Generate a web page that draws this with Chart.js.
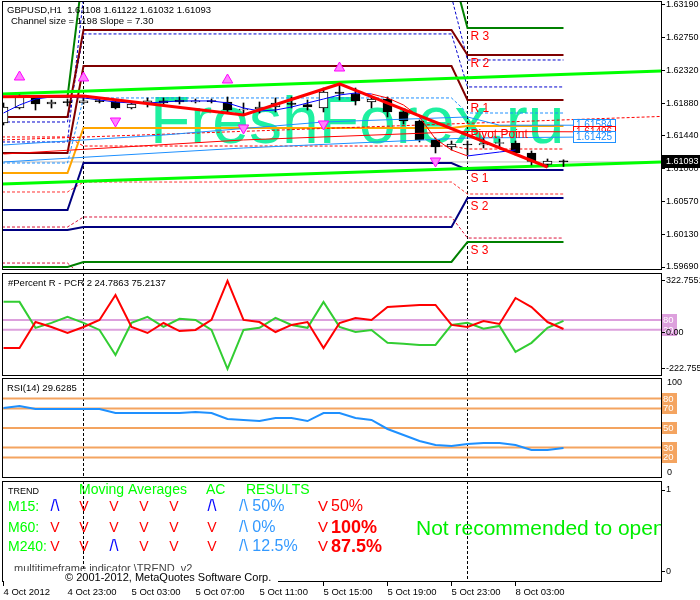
<!DOCTYPE html>
<html>
<head>
    <title>GBPUSD H1</title>
    <script src="https://cdn.jsdelivr.net/npm/chart.js"></script>
    <style>
        body {
            margin: 0;
            background-color: white;
        }
        #wrap {
            position: relative;
            width: 700px;
            height: 600px;
            overflow: hidden;
        }
        canvas {
            position: absolute;
            left: 0;
        }
    </style>
</head>
<body>
<div id="wrap">
    <canvas id="priceChart" width="700" height="272" style="top:0px"></canvas>
    <canvas id="pcrChart" width="700" height="105" style="top:272px"></canvas>
    <canvas id="rsiChart" width="700" height="108" style="top:372px"></canvas>
    <canvas id="trendChart" width="700" height="120" style="top:480px"></canvas>
</div>

<script>
// ---- data (H1 bars, 4 Oct 19:00 .. 8 Oct 06:00) ----
const opens  = [1.61614, 1.61814, 1.61961, 1.61867, 1.61894, 1.61885, 1.61908, 1.61900, 1.61814, 1.61867, 1.61908, 1.61921,
                1.61894, 1.61908, 1.61894, 1.61787, 1.61801, 1.61827, 1.61881, 1.61860, 1.61814, 1.62028, 1.62008, 1.61894,
                1.61934, 1.61761, 1.61640, 1.61387, 1.61293, 1.61333, 1.61320, 1.61340, 1.61346, 1.61213, 1.61060, 1.61108];
const highs  = [1.61881, 1.61988, 1.61974, 1.61921, 1.61934, 1.61961, 1.61948, 1.61921, 1.61894, 1.61948, 1.61948, 1.61961,
                1.61934, 1.61934, 1.61961, 1.61881, 1.61894, 1.61948, 1.61961, 1.61921, 1.62081, 1.62135, 1.62081, 1.61961,
                1.61961, 1.61801, 1.61654, 1.61413, 1.61373, 1.61373, 1.61413, 1.61400, 1.61373, 1.61240, 1.61133, 1.61122];
const lows   = [1.61587, 1.61801, 1.61787, 1.61814, 1.61841, 1.61867, 1.61881, 1.61801, 1.61801, 1.61827, 1.61854, 1.61867,
                1.61881, 1.61881, 1.61747, 1.61721, 1.61747, 1.61761, 1.61814, 1.61787, 1.61761, 1.61921, 1.61854, 1.61814,
                1.61694, 1.61600, 1.61360, 1.61213, 1.61253, 1.61186, 1.61280, 1.61293, 1.61186, 1.61053, 1.61026, 1.61032];
const closes = [1.61827, 1.61961, 1.61867, 1.61894, 1.61885, 1.61908, 1.61900, 1.61814, 1.61867, 1.61908, 1.61881, 1.61894,
                1.61908, 1.61900, 1.61787, 1.61801, 1.61827, 1.61881, 1.61860, 1.61827, 1.62028, 1.62008, 1.61908, 1.61934,
                1.61761, 1.61640, 1.61387, 1.61293, 1.61333, 1.61320, 1.61340, 1.61346, 1.61213, 1.61100, 1.61106, 1.61093];

const timeLabels = ['4 Oct 2012', '4 Oct 23:00', '5 Oct 03:00', '5 Oct 07:00', '5 Oct 11:00',
                    '5 Oct 15:00', '5 Oct 19:00', '5 Oct 23:00', '8 Oct 03:00'];
const timeLabelBars = [0, 4, 8, 12, 16, 20, 24, 28, 32];
const daySeparators = [5, 29];
const priceTicks = [1.6319, 1.6275, 1.6232, 1.6188, 1.6144, 1.6100, 1.6057, 1.6013, 1.5969];
const bidPrice = 1.61093;

// daily pivot levels: 4 Oct, 5 Oct, 8 Oct
const pivotNames = ['R 3', 'R 2', 'R 1', 'Pivot Point', 'S 1', 'S 2', 'S 3'];
const pivotOct4 = [1.61961, 1.61694, 1.61213, 1.60946, 1.60451, 1.60184, 1.59690];
const pivotOct5 = [1.63684, 1.62856, 1.62375, 1.61547, 1.61079, 1.60224, 1.59757];
const pivotOct8 = [1.62883, 1.62522, 1.61921, 1.61574, 1.60986, 1.60612, 1.60024];
// dashed middle levels
const midOct4 = [1.61627, 1.61360, 1.61079, 1.61427, 1.60692, 1.60224, 1.59743];
const midOct5 = [1.62803, 1.63300, 1.61948, 1.61306, 1.60825, 1.60358, 1.59550];
const midOct8 = [1.62095, 1.62455, 1.61747, 1.61266, 1.60665, 1.60077, 1.59550];

// regression channel (left edge, right edge)
const channelTop = [1.62001, 1.62308];
const channelMid = [1.61387, 1.61701];
const channelBottom = [1.60799, 1.61093];

// thin band lines ending in price tags
const bandUpperBars = [0, 10, 20, 29, 31, 35.6];
const bandUpper = [1.61320, 1.61453, 1.61627, 1.61694, 1.61584, 1.61584];
const bandMidBars = [0, 15, 29, 35.6];
const bandMid = [1.61199, 1.61387, 1.61500, 1.61496];
const bandLowerBars = [0, 15, 29, 35.6];
const bandLower = [1.61093, 1.61280, 1.61413, 1.61425];

// two coloured moving average
const maBlueBars = [0, 1, 2, 3, 4, 5, 6, 7, 8, 9, 10, 11, 12, 13, 14, 15, 16, 17, 18, 19, 20, 21, 22, 23, null, 29, 30, 31, 32];
const maBlue = [1.61747, 1.61854, 1.61934, 1.61961, 1.61961, 1.61948, 1.61921, 1.61894, 1.61881, 1.61881, 1.61894, 1.61908,
                1.61908, 1.61908, 1.61881, 1.61814, 1.61774, 1.61787, 1.61827, 1.61881, 1.61934, 1.61988, 1.62014, 1.62001,
                null, 1.61173, 1.61200, 1.61226, 1.61253];
const maRedBars = [23, 24, 25, 26, 27, 28, 29];
const maRed = [1.62001, 1.61948, 1.61854, 1.61694, 1.61400, 1.61253, 1.61173];

const zigzagBars = [-1, 5, 15, 21, 34];
const zigzag = [1.61961, 1.61974, 1.61721, 1.62135, 1.61026];

const fractalUpBars = [1, 5, 14, 21];
const fractalUp = [1.62228, 1.62215, 1.62188, 1.62348];
const fractalDownBars = [7, 15, 20, 27];
const fractalDown = [1.61640, 1.61547, 1.61600, 1.61106];

// #Percent R - PCR 2
const pcrRed = [-93, -93, 68, 37, 0, 37, 81, 236, 37, 0, 62, 12, 19, 81, 322.7551, 81, 68, 6, 50, 68, -93, 62, 93, 81,
                161, 167, 174, 174, 50, 37, 74, 56, 217, 161, 68, 24.7863];
const pcrGreen = [193, 193, 32, 63, 100, 63, 19, -136, 63, 100, 38, 88, 81, 19, -222.755, 19, 32, 94, 50, 32, 193, 38, 7, 19,
                  -61, -67, -74, -74, 50, 63, 26, 44, -117, -61, 32, 75.2137];
const pcrLevels = [80, 20];
const pcrTicks = [322.7551, 0, -222.755];
const pcrTickLabels = ['322.7551', '0.00', '-222.755'];

// RSI(14)
const rsi = [70.4, 72.4, 69.4, 69.4, 69.4, 69.4, 69.4, 65.3, 65.3, 65.3, 65.3, 65.3, 66.3, 65.3, 59.2, 58.2, 57.1, 60.2,
             60.2, 57.1, 65.3, 65.3, 60.2, 58.2, 49.0, 42.9, 36.7, 32.7, 31.6, 33.7, 34.7, 34.7, 32.7, 27.6, 27.6, 29.6285];
const rsiLevels = [80, 70, 50, 30, 20];

// TREND table
const trendRows = ['M15:', 'M60:', 'M240:'];
const maSignals = [['up', 'down', 'down', 'down', 'down', 'up'],
                   ['down', 'down', 'down', 'down', 'down', 'down'],
                   ['down', 'down', 'up', 'down', 'down', 'down']];
const upShare = ['50%', '0%', '12.5%'];
const downShare = ['50%', '100%', '87.5%'];

// ---- common setup ----
Chart.defaults.font.family = 'Liberation Sans';
Chart.defaults.font.size = 9.5;
Chart.defaults.color = '#000';
Chart.defaults.animation = false;
Chart.defaults.responsive = false;
Chart.defaults.events = [];
Chart.defaults.plugins.legend.display = false;
Chart.defaults.plugins.tooltip.enabled = false;

const X_MIN = -0.09375, X_MAX = 41.09375;

function pts(xs, ys) {
    return xs.map((x, i) => ({x: x, y: ys[i]}));
}
function flat(v) {
    return [{x: X_MIN, y: v}, {x: X_MAX, y: v}];
}
function dayLevel(v4, v5, v8) {
    return [{x: X_MIN, y: v4}, {x: 4, y: v4}, {x: 5, y: v5}, {x: 28, y: v5}, {x: 29, y: v8}, {x: 35, y: v8}];
}
function lineSet(data, color, width, dash, order) {
    return {type: 'line', data: data, borderColor: color, borderWidth: width, borderDash: dash || [],
            pointRadius: 0, tension: 0, fill: false, spanGaps: false, order: order};
}
function hiddenX() {
    return {type: 'linear', min: X_MIN, max: X_MAX, offset: false, display: false, grid: {offset: false}};
}
// keep the axis from reserving room for half labels
function fixRightAxis(s) {
    s.width = 39;
    s.paddingTop = 0;
    s.paddingBottom = 0;
}

function drawSeparators(chart) {
    const {ctx, chartArea: a, scales: {x}} = chart;
    ctx.save();
    ctx.strokeStyle = '#000';
    ctx.lineWidth = 1;
    ctx.setLineDash([3, 2]);
    daySeparators.forEach(b => {
        const px = x.getPixelForValue(b);
        ctx.beginPath();
        ctx.moveTo(px, a.top);
        ctx.lineTo(px, a.bottom);
        ctx.stroke();
    });
    ctx.restore();
}
function drawFrame(chart) {
    const {ctx, chartArea: a} = chart;
    ctx.save();
    ctx.strokeStyle = '#000';
    ctx.lineWidth = 1;
    ctx.strokeRect(a.left + 0.5, a.top + 0.5, a.right - a.left, a.bottom - a.top - 1);
    ctx.restore();
}
function levelTag(chart, value, text, bg) {
    const {ctx, chartArea: a, scales: {y}} = chart;
    const py = Math.round(y.getPixelForValue(value));
    ctx.save();
    ctx.fillStyle = bg;
    ctx.fillRect(a.right + 1, py - 6, 15, 12);
    ctx.fillStyle = '#fff';
    ctx.font = '9.5px Liberation Sans';
    ctx.textBaseline = 'middle';
    ctx.fillText(text, a.right + 2, py);
    ctx.restore();
}
function panelTitle(chart, text, dx, dy) {
    const {ctx, chartArea: a} = chart;
    ctx.save();
    ctx.font = '9.5px Liberation Sans';
    ctx.fillStyle = '#000';
    ctx.textBaseline = 'middle';
    ctx.fillText(text, a.left + dx, a.top + dy);
    ctx.restore();
}

// ---- main price chart ----
const bodyColors = opens.map((o, i) => closes[i] >= o ? '#FFFFFF' : '#000000');
const barIdx = opens.map((o, i) => i);
const midColors = ['#0000CD', '#0000CD', '#1E90FF', '#FF0000', '#FF3030', '#DC143C', '#DC143C'];
const pivotColors = ['#008000', '#800000', '#800000', '#FFA500', '#000080', '#000080', '#008000'];

const mainSets = [];
mainSets.push({type: 'line', data: pts(fractalUpBars, fractalUp), showLine: false, pointStyle: 'triangle',
               pointRadius: 6, pointBackgroundColor: '#FF80FF', pointBorderColor: '#FF00FF', pointBorderWidth: 1, order: 0});
mainSets.push({type: 'line', data: pts(fractalDownBars, fractalDown), showLine: false, pointStyle: 'triangle',
               pointRotation: 180, pointRadius: 6, pointBackgroundColor: '#FF80FF', pointBorderColor: '#FF00FF',
               pointBorderWidth: 1, order: 0});
mainSets.push(lineSet(pts(zigzagBars, zigzag), '#FF0000', 3, null, 1));
mainSets.push(lineSet(pts(maBlueBars, maBlue), '#0000FF', 1, null, 2));
mainSets.push(lineSet(pts(maRedBars, maRed), '#FF0000', 1, null, 2));
mainSets.push(lineSet(pts(bandUpperBars, bandUpper), '#1E90FF', 1, null, 3));
mainSets.push(lineSet(pts(bandMidBars, bandMid), '#FF0000', 1, null, 3));
mainSets.push(lineSet(pts(bandLowerBars, bandLower), '#1E90FF', 1, null, 3));
mainSets.push({type: 'bar', data: barIdx.map(i => ({x: i, y: [opens[i], closes[i]]})), backgroundColor: bodyColors,
               borderColor: '#000', borderWidth: 1, borderSkipped: false, barThickness: 9, minBarLength: 1,
               grouped: false, order: 4});
mainSets.push({type: 'bar', data: barIdx.map(i => ({x: i, y: [lows[i], highs[i]]})), backgroundColor: '#000',
               borderWidth: 0, barThickness: 1, grouped: false, order: 5});
mainSets.push(lineSet(pts([X_MIN, X_MAX], channelTop), '#00FF00', 3, null, 6));
mainSets.push(lineSet(pts([X_MIN, X_MAX], channelBottom), '#00FF00', 3, null, 6));
mainSets.push(lineSet(pts([X_MIN, X_MAX], channelMid), '#FF0000', 1, [3, 2], 6));
pivotNames.forEach((n, k) => {
    mainSets.push(lineSet(dayLevel(pivotOct4[k], pivotOct5[k], pivotOct8[k]), pivotColors[k], 2, null, 7));
    mainSets.push(lineSet(dayLevel(midOct4[k], midOct5[k], midOct8[k]), midColors[k], 1, [3, 2], 8));
});
mainSets.push(lineSet(flat(bidPrice), '#C0C0C0', 1, null, 9));

const mainDecor = {
    id: 'mainDecor',
    beforeDatasetsDraw(chart) {
        const ctx = chart.ctx;
        ctx.save();
        ctx.font = '66px Liberation Sans';
        ctx.fillStyle = '#1EF0A0';
        ctx.textBaseline = 'alphabetic';
        ctx.fillText('FreshForex.ru', 150, 143);
        ctx.restore();
        drawSeparators(chart);
    },
    afterDatasetsDraw(chart) {
        const {ctx, scales: {x, y}} = chart;
        ctx.save();
        ctx.font = '12px Liberation Sans';
        ctx.fillStyle = '#FF0000';
        ctx.textBaseline = 'top';
        pivotNames.forEach((n, k) => {
            ctx.fillText(n, x.getPixelForValue(29) + 3, y.getPixelForValue(pivotOct8[k]) + 3);
        });
        // price tags of the band lines
        const tags = [[bandUpper, '#1E90FF'], [bandMid, '#FF0000'], [bandLower, '#1E90FF']];
        ctx.font = '10px Liberation Sans';
        ctx.textBaseline = 'middle';
        tags.forEach(([arr, col]) => {
            const v = arr[arr.length - 1];
            const px = Math.round(x.getPixelForValue(35.6));
            const py = Math.round(y.getPixelForValue(v));
            ctx.fillStyle = '#fff';
            ctx.fillRect(px + 0.5, py - 5.5, 42, 11);
            ctx.strokeStyle = col;
            ctx.lineWidth = 1;
            ctx.strokeRect(px + 0.5, py - 5.5, 42, 11);
            ctx.fillStyle = col;
            ctx.fillText(v.toFixed(5), px + 3, py + 0.5);
        });
        ctx.restore();
    },
    afterDraw(chart) {
        const {ctx, chartArea: a, scales: {y}} = chart;
        drawFrame(chart);
        panelTitle(chart, 'GBPUSD,H1  1.61108 1.61122 1.61032 1.61093', 5, 9);
        panelTitle(chart, 'Channel size = 1198 Slope = 7.30', 9, 20);
        const py = Math.round(y.getPixelForValue(bidPrice));
        ctx.save();
        ctx.fillStyle = '#000';
        ctx.fillRect(a.right + 1, py - 7, 39, 13);
        ctx.fillStyle = '#fff';
        ctx.font = '9px Liberation Sans';
        ctx.textBaseline = 'middle';
        ctx.fillText(bidPrice.toFixed(5), a.right + 5, py);
        ctx.restore();
    }
};

new Chart(document.getElementById('priceChart'), {
    type: 'line',
    data: {datasets: mainSets},
    options: {
        layout: {autoPadding: false, padding: {left: 2, right: 0, top: 1, bottom: 2}},
        scales: {
            x: hiddenX(),
            y: {
                type: 'linear', position: 'right', min: 1.5965, max: 1.63243,
                border: {display: false},
                grid: {drawOnChartArea: false, drawTicks: true, tickLength: 4, color: '#000'},
                ticks: {padding: 1, autoSkip: false, font: {size: 9}, callback: v => v.toFixed(5)},
                afterBuildTicks: s => { s.ticks = priceTicks.map(v => ({value: v})); },
                afterFit: fixRightAxis
            }
        }
    },
    plugins: [mainDecor]
});

// ---- #Percent R panel ----
const pcrSets = [
    lineSet(pts(barIdx, pcrRed), '#FF0000', 2, null, 0),
    lineSet(pts(barIdx, pcrGreen), '#32CD32', 2, null, 1)
];
pcrLevels.forEach(l => pcrSets.push(lineSet(flat(l), '#DDA0DD', 2, null, 2)));

new Chart(document.getElementById('pcrChart'), {
    type: 'line',
    data: {datasets: pcrSets},
    options: {
        layout: {autoPadding: false, padding: {left: 2, right: 0, top: 1, bottom: 1}},
        scales: {
            x: hiddenX(),
            y: {
                type: 'linear', position: 'right', min: -266.6, max: 372,
                border: {display: false},
                grid: {drawOnChartArea: false, drawTicks: true, tickLength: 4, color: '#000'},
                ticks: {padding: 1, autoSkip: false, font: {size: 9}, callback: (v, i) => pcrTickLabels[i]},
                afterBuildTicks: s => { s.ticks = pcrTicks.map(v => ({value: v})); },
                afterFit: fixRightAxis
            }
        }
    },
    plugins: [{
        id: 'pcrDecor',
        beforeDraw(chart) {
            pcrLevels.forEach(l => levelTag(chart, l, String(l), '#DDA0DD'));
        },
        beforeDatasetsDraw(chart) { drawSeparators(chart); },
        afterDraw(chart) {
            drawFrame(chart);
            panelTitle(chart, '#Percent R - PCR 2 24.7863 75.2137', 6, 10);
        }
    }]
});

// ---- RSI panel ----
const rsiSets = [lineSet(pts(barIdx, rsi), '#1E90FF', 2, null, 0)];
rsiLevels.forEach(l => rsiSets.push(lineSet(flat(l), '#F4A460', 2, null, 1)));

new Chart(document.getElementById('rsiChart'), {
    type: 'line',
    data: {datasets: rsiSets},
    options: {
        layout: {autoPadding: false, padding: {left: 2, right: 0, top: 6, bottom: 2}},
        scales: {
            x: hiddenX(),
            y: {
                type: 'linear', position: 'right', min: -1.02, max: 101.02,
                border: {display: false},
                grid: {display: false},
                ticks: {display: false},
                afterFit: fixRightAxis
            }
        }
    },
    plugins: [{
        id: 'rsiDecor',
        beforeDatasetsDraw(chart) { drawSeparators(chart); },
        afterDraw(chart) {
            const {ctx, chartArea: a, scales: {y}} = chart;
            drawFrame(chart);
            rsiLevels.forEach(l => levelTag(chart, l, String(l), '#F4A460'));
            ctx.save();
            ctx.font = '9px Liberation Sans';
            ctx.fillStyle = '#000';
            ctx.textBaseline = 'middle';
            ctx.fillText('100', a.right + 6, y.getPixelForValue(100) + 4);
            ctx.fillText('0', a.right + 6, y.getPixelForValue(0) - 4);
            ctx.restore();
            panelTitle(chart, 'RSI(14) 29.6285', 5, 10);
        }
    }]
});

// ---- TREND panel with time axis ----
const trendCols = [55, 84, 114, 144, 174, 212];
const rowY = [27, 48, 67];
const boldResult = [false, true, true];

new Chart(document.getElementById('trendChart'), {
    type: 'line',
    data: {datasets: []},
    options: {
        layout: {autoPadding: false, padding: {left: 2, right: 0, top: 1, bottom: 0}},
        scales: {
            x: {
                type: 'linear', min: X_MIN, max: X_MAX, offset: false,
                border: {display: false},
                grid: {drawOnChartArea: false, drawTicks: true, tickLength: 4, color: '#000', offset: false},
                ticks: {align: 'start', autoSkip: false, maxRotation: 0, padding: 1,
                        callback: (v, i) => timeLabels[i]},
                afterBuildTicks: s => { s.ticks = timeLabelBars.map(v => ({value: v})); },
                afterFit: s => { s.height = 18; s.paddingLeft = 0; s.paddingRight = 0; }
            },
            y: {
                type: 'linear', position: 'right', min: -0.122, max: 1.1098,
                border: {display: false},
                grid: {drawOnChartArea: false, drawTicks: true, tickLength: 4, color: '#000'},
                ticks: {padding: 1, autoSkip: false, font: {size: 9}, callback: v => String(v)},
                afterBuildTicks: s => { s.ticks = [{value: 1}, {value: 0}]; },
                afterFit: fixRightAxis
            }
        }
    },
    plugins: [{
        id: 'trendDecor',
        beforeDatasetsDraw(chart) { drawSeparators(chart); },
        afterDraw(chart) {
            const {ctx, chartArea: a} = chart;
            drawFrame(chart);
            ctx.save();
            ctx.textBaseline = 'middle';
            ctx.font = '9px Liberation Sans';
            ctx.fillStyle = '#000';
            ctx.fillText('TREND', 8, 12);
            ctx.font = '14px Liberation Sans';
            ctx.fillStyle = '#00FF00';
            ctx.fillText('Moving Averages', 79, 10);
            ctx.fillText('AC', 206, 10);
            ctx.fillText('RESULTS', 246, 10);

            trendRows.forEach((r, i) => {
                const y = rowY[i];
                ctx.textAlign = 'left';
                ctx.font = '14px Liberation Sans';
                ctx.fillStyle = '#00FF00';
                ctx.fillText(r, 8, y);
                maSignals[i].forEach((s, j) => {
                    ctx.textAlign = 'center';
                    if (s === 'up') {
                        ctx.font = '16px Liberation Sans';
                        ctx.fillStyle = '#0000FF';
                        ctx.fillText('/\\', trendCols[j], y);
                    } else {
                        ctx.font = '14px Liberation Sans';
                        ctx.fillStyle = '#FF0000';
                        ctx.fillText('V', trendCols[j], y);
                    }
                });
                ctx.textAlign = 'left';
                ctx.font = '16px Liberation Sans';
                ctx.fillStyle = '#3399FF';
                ctx.fillText('/\\ ' + upShare[i], 239, y);
                ctx.fillStyle = '#FF0000';
                ctx.font = '15px Liberation Sans';
                ctx.fillText('V', 318, y);
                ctx.font = boldResult[i] ? 'bold 18px Liberation Sans' : '16px Liberation Sans';
                ctx.fillText(downShare[i], 331, y);
            });

            // clipped advice text
            ctx.save();
            ctx.beginPath();
            ctx.rect(a.left, a.top, a.right - a.left, a.bottom - a.top);
            ctx.clip();
            ctx.font = '21px Liberation Sans';
            ctx.fillStyle = '#00EE00';
            ctx.fillText('Not recommended to open', 416, 49);
            ctx.restore();

            ctx.font = '11px Liberation Sans';
            ctx.fillStyle = '#444';
            ctx.fillText('multitimeframe indicator \\TREND_v2', 14, 89);
            ctx.fillStyle = '#fff';
            ctx.fillRect(4, 91, 274, 15);
            ctx.fillStyle = '#000';
            ctx.fillText('\u00A9 2001-2012, MetaQuotes Software Corp.', 65, 98);
            ctx.restore();
        }
    }]
});
</script>
</body>
</html>
